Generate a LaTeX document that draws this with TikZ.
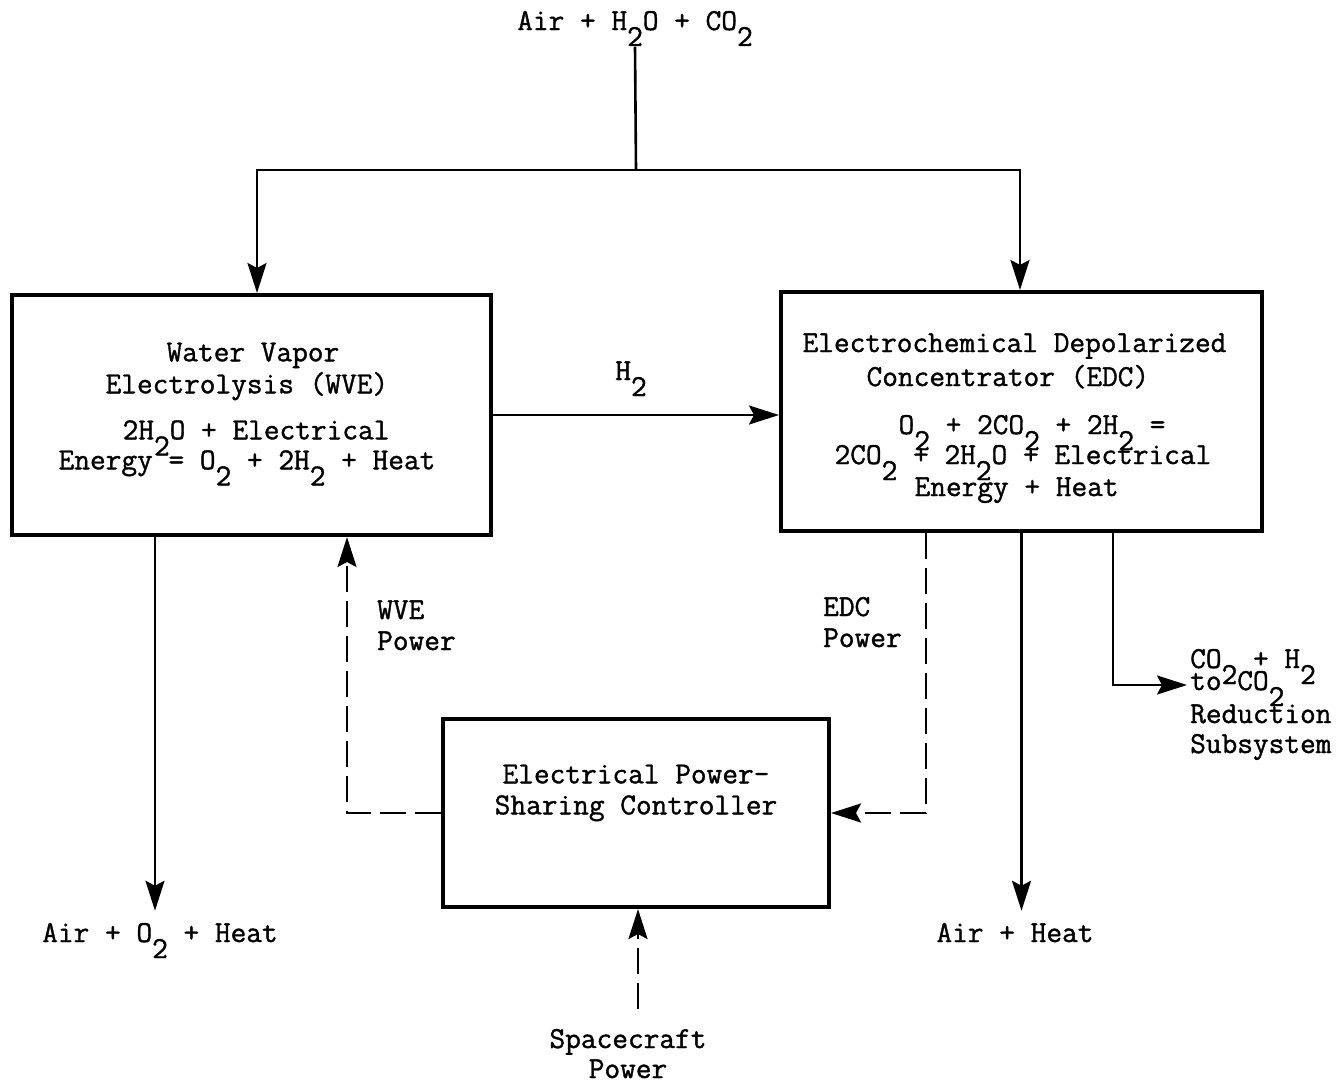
\documentclass[tikz,border=0pt]{standalone}
\usepackage{fontspec}
\setmainfont{Latin Modern Mono}[FakeBold=1.2]
\usetikzlibrary{arrows.meta}
\newcommand\sbt[1]{\raisebox{-16pt}[0pt][0pt]{#1}}
\begin{document}
\begin{tikzpicture}[x=1pt,y=-1pt,
  every node/.style={font=\fontsize{30.48pt}{31pt}\selectfont, inner sep=0pt},
  box/.style={draw, line width=4pt, rectangle, align=center},
  flow/.style={line width=2.6pt, -{Stealth[length=30pt,width=19pt,inset=5pt]}},
  pwr/.style={flow, dash pattern=on 26pt off 9pt},
  plain/.style={line width=2.6pt}
]
\useasboundingbox[fill=white] (0,0) rectangle (1343,1084);

% boxes
\node[box, align=left, minimum width=479pt, minimum height=240pt] (wve) at (251.5,415)
  {\hspace*{108pt}Water Vapor\\[1pt]\hspace*{47pt}Electrolysis (WVE)\\[15pt]\hspace*{64pt}2H\sbt2O + Electrical\\[-1pt]Energy = O\sbt2 + 2H\sbt2 + Heat\hspace*{9pt}\rule[-18pt]{0pt}{0pt}};
\node[box, align=left, minimum width=481pt, minimum height=239pt] (edc) at (1021.5,411.5)
  {\rule{0pt}{32pt}Electrochemical Depolarized\hspace*{14pt}\\[3pt]\hspace*{64pt}Concentrator (EDC)\\[17pt]\hspace*{96pt}O\sbt2 + 2CO\sbt2 + 2H\sbt2 =\\[-1pt]\hspace*{32pt}2CO\sbt2 + 2H\sbt2O + Electrical\\[1pt]\hspace*{112pt}Energy + Heat};
\node[box, minimum width=386pt, minimum height=188pt] (ctl) at (636,813)
  {Electrical Power-\\Sharing Controller\rule[-47pt]{0pt}{0pt}};

% labels (multi-line labels: base = last line)
\node[anchor=base] (src) at (635,30) {Air + H\sbt2O + CO\sbt2};
\node[anchor=base] (h2) at (631,380) {H\sbt2};
\node[anchor=base, inner sep=12pt] (ao) at (160,942) {Air + O\sbt2 + Heat};
\node[anchor=base, inner sep=12pt] (ah) at (1015,942) {Air + Heat};
\node[anchor=base west, align=left] (wvep) at (377,650) {WVE\\Power};
\node[anchor=base west, align=left] (edcp) at (823,647) {EDC\\Power};
\node[anchor=base west, align=left] (red) at (1190,753) {CO\sbt2 + H\sbt2\\[-9pt]to CO\sbt2\\[2pt]Reduction\\[-1pt]Subsystem};
\node[anchor=base, align=center] (scp) at (628,1078) {Spacecraft\\[-1pt]Power};

% connectors
\coordinate (j) at (636,170);
\coordinate (redin) at (1187,685);
\draw[plain] ([yshift=-16pt]src.south) -- (j);
\draw[flow] (j) -| ([xshift=5.5pt]wve.north);
\draw[flow] (j) -| ([xshift=-1.5pt]edc.north);
\draw[flow] (wve.east) -- (wve.east -| edc.west);
\draw[flow] ([xshift=-96.5pt]wve.south) -- ([xshift=-96.5pt]wve.south |- ao.north);
\draw[pwr] (ctl.west) -| ([xshift=95.5pt]wve.south);
\draw[pwr] ([xshift=-95.5pt]edc.south) |- (ctl.east);
\draw[flow] (edc.south) -- (edc.south |- ah.north);
\draw[flow] ([xshift=91.5pt]edc.south) |- (redin);
\draw[pwr] ([xshift=10pt,yshift=20pt]scp.north) -- ([xshift=10pt]scp.north |- ctl.south);
\end{tikzpicture}
\end{document}
